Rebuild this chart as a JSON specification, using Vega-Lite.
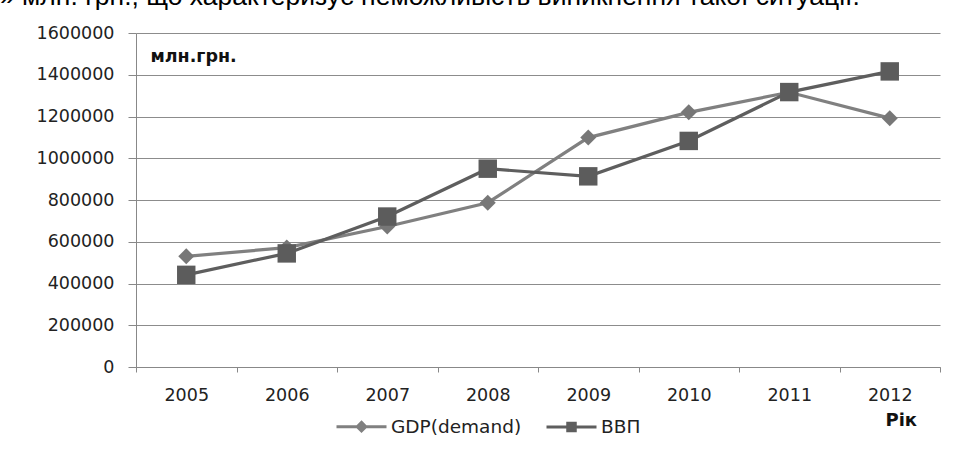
{
  "$schema": "https://vega.github.io/schema/vega-lite/v6.json",
  "width": 804,
  "height": 334,
  "autosize": {"type": "none"},
  "padding": {"left": 136, "top": 33, "right": 13, "bottom": 83},
  "background": "white",
  "config": {
    "view": {"stroke": null},
    "font": "DejaVu Sans"
  },
  "title": {
    "text": "» млн. грн., що характеризує неможливість виникнення такої ситуації.",
    "anchor": "start",
    "frame": "group",
    "orient": "top",
    "dx": -136,
    "offset": 0,
    "dy": 7,
    "baseline": "alphabetic",
    "font": "Liberation Sans",
    "fontSize": 26.5,
    "fontWeight": "normal",
    "color": "#000000"
  },
  "data": {
    "values": [
      {"year": "2005", "series": "GDP(demand)", "value": 530000},
      {"year": "2006", "series": "GDP(demand)", "value": 572000},
      {"year": "2007", "series": "GDP(demand)", "value": 673000},
      {"year": "2008", "series": "GDP(demand)", "value": 787000},
      {"year": "2009", "series": "GDP(demand)", "value": 1099000},
      {"year": "2010", "series": "GDP(demand)", "value": 1220000},
      {"year": "2011", "series": "GDP(demand)", "value": 1316000},
      {"year": "2012", "series": "GDP(demand)", "value": 1192000},
      {"year": "2005", "series": "ВВП", "value": 441452},
      {"year": "2006", "series": "ВВП", "value": 544153},
      {"year": "2007", "series": "ВВП", "value": 720731},
      {"year": "2008", "series": "ВВП", "value": 950000},
      {"year": "2009", "series": "ВВП", "value": 913345},
      {"year": "2010", "series": "ВВП", "value": 1083000},
      {"year": "2011", "series": "ВВП", "value": 1317000},
      {"year": "2012", "series": "ВВП", "value": 1416000}
    ]
  },
  "encoding": {
    "x": {
      "field": "year",
      "type": "ordinal",
      "scale": {"type": "band", "paddingInner": 0, "paddingOuter": 0, "domain": ["2005", "2006", "2007", "2008", "2009", "2010", "2011", "2012"]},
      "axis": {
        "title": "Рік",
        "titleFont": "DejaVu Sans",
        "titleFontSize": 18,
        "titleFontWeight": "bold",
        "titleColor": "#111111",
        "titleAngle": 0,
        "titleAlign": "left",
        "titleBaseline": "alphabetic",
        "titleX": 749,
        "titleY": 58,
        "labelAngle": 0,
        "labelFontSize": 17.5,
        "labelColor": "#222222",
        "labelPadding": 14,
        "tickBand": "extent",
        "tickSize": 5,
        "tickColor": "#888888",
        "domainColor": "#888888",
        "domainWidth": 1,
        "grid": false
      }
    },
    "y": {
      "field": "value",
      "type": "quantitative",
      "scale": {"domain": [0, 1600000], "nice": false},
      "axis": {
        "values": [0, 200000, 400000, 600000, 800000, 1000000, 1200000, 1400000, 1600000],
        "format": "d",
        "title": "млн.грн.",
        "titleFont": "DejaVu Sans",
        "titleFontSize": 17.5,
        "titleFontWeight": "bold",
        "titleColor": "#111111",
        "titleAngle": 0,
        "titleAlign": "left",
        "titleBaseline": "alphabetic",
        "titleX": 14,
        "titleY": 28,
        "labelFontSize": 17.5,
        "labelColor": "#222222",
        "labelPadding": 14,
        "tickSize": 8,
        "tickColor": "#888888",
        "domainColor": "#888888",
        "grid": true,
        "gridColor": "#8c8c8c",
        "gridWidth": 1
      }
    }
  },
  "layer": [
    {
      "transform": [{"filter": "datum.series === 'GDP(demand)'"}],
      "mark": {"type": "line", "strokeWidth": 3.2, "color": "#808080"}
    },
    {
      "transform": [{"filter": "datum.series === 'GDP(demand)'"}],
      "mark": {"type": "point", "filled": true, "opacity": 1, "shape": "diamond", "size": 256, "color": "#777777"}
    },
    {
      "transform": [{"filter": "datum.series === 'ВВП'"}],
      "mark": {"type": "line", "strokeWidth": 3.2, "color": "#5e5e5e"}
    },
    {
      "transform": [{"filter": "datum.series === 'ВВП'"}],
      "mark": {"type": "point", "filled": true, "opacity": 1, "shape": "square", "size": 340, "color": "#5c5c5c"}
    },
    {
      "transform": [{"filter": "datum.value < 0"}],
      "mark": {"type": "point", "filled": true, "opacity": 1, "strokeWidth": 3},
      "encoding": {
        "fill": {
          "field": "series",
          "type": "nominal",
          "scale": {"domain": ["GDP(demand)", "ВВП"], "range": ["#808080", "#5e5e5e"]},
          "legend": {
            "title": null,
            "orient": "none",
            "direction": "horizontal",
            "legendX": 199,
            "legendY": 367,
            "symbolSize": 2500,
            "symbolStrokeWidth": 3,
            "labelFont": "DejaVu Sans",
            "labelFontSize": 18.5,
            "labelColor": "#222222",
            "labelOffset": 3,
            "columnPadding": 18
          }
        },
        "stroke": {
          "field": "series",
          "type": "nominal",
          "scale": {"domain": ["GDP(demand)", "ВВП"], "range": ["#808080", "#5e5e5e"]}
        },
        "shape": {
          "field": "series",
          "type": "nominal",
          "scale": {"domain": ["GDP(demand)", "ВВП"], "range": ["M-1,0H1M0,-0.17L0.17,0L0,0.17L-0.17,0Z", "M-1,0H1M-0.15,-0.15H0.15V0.15H-0.15Z"]}
        }
      }
    }
  ]
}
